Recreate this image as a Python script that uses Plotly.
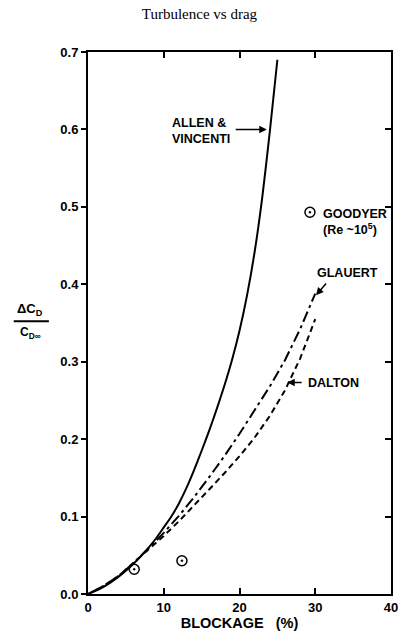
import plotly.graph_objects as go

# Blockage ratio (%) and drag-increment ratio for each correction
allen_x = [0, 1, 2, 3, 4, 5, 6, 7, 8, 9, 10, 11, 12, 13, 14, 15, 16, 17, 18, 19,
           20, 21, 22, 23, 24, 25]
allen_y = [0, 0.004, 0.009, 0.015, 0.022, 0.030, 0.039, 0.049, 0.060, 0.072,
           0.086, 0.100, 0.117, 0.137, 0.160, 0.185, 0.211, 0.239, 0.269, 0.302,
           0.340, 0.386, 0.442, 0.512, 0.597, 0.690]

glauert_x = [0, 2, 4, 6, 8, 10, 12, 14, 16, 18, 20, 22, 24, 26, 28, 30]
glauert_y = [0, 0.010, 0.023, 0.040, 0.059, 0.079, 0.101, 0.125, 0.151, 0.178,
             0.207, 0.237, 0.268, 0.302, 0.342, 0.388]

dalton_x = [0, 2, 4, 6, 8, 10, 12, 14, 16, 18, 20, 22, 24, 26, 28, 30]
dalton_y = [0, 0.010, 0.023, 0.040, 0.057, 0.075, 0.094, 0.114, 0.135, 0.156,
            0.178, 0.202, 0.230, 0.263, 0.304, 0.355]

# Measured points (Goodyer and others)
meas_x = [6.1, 12.4, 29.3]
meas_y = [0.032, 0.043, 0.493]

x_ticks = [0, 10, 20, 30, 40]
y_ticks = [0.0, 0.1, 0.2, 0.3, 0.4, 0.5, 0.6, 0.7]

SANS = "Liberation Sans, Arial, sans-serif"
LBL = dict(family=SANS, size=12, color="black")
CURVE_LBL = dict(family=SANS, size=12.5, color="black")

fig = go.Figure()
fig.add_trace(go.Scatter(x=allen_x, y=allen_y, mode="lines",
                         line=dict(color="black", width=2, shape="spline", smoothing=0.6)))
fig.add_trace(go.Scatter(x=glauert_x, y=glauert_y, mode="lines",
                         line=dict(color="black", width=2,
                                   dash="11px,4px,3px,4px")))
fig.add_trace(go.Scatter(x=dalton_x, y=dalton_y, mode="lines",
                         line=dict(color="black", width=2, dash="6px,4px")))
fig.add_trace(go.Scatter(x=meas_x, y=meas_y, mode="markers",
                         marker=dict(symbol="circle-open-dot", size=10, color="black",
                                     line=dict(width=1.5, color="black"))))
# invisible trace to carry the right-hand axis ticks
fig.add_trace(go.Scatter(x=[0], y=[0], yaxis="y2", mode="markers",
                         marker=dict(opacity=0), hoverinfo="skip"))

fig.update_layout(
    width=407, height=638,
    margin=dict(l=88, r=9, t=52, b=42),
    paper_bgcolor="white", plot_bgcolor="white",
    showlegend=False,
    xaxis=dict(range=[0, 40], tickvals=x_ticks,
               ticktext=["<b>%d</b>" % v for v in x_ticks],
               ticks="inside", ticklen=6, tickwidth=1.5, tickcolor="black",
               showline=True, linecolor="black", linewidth=2, mirror="ticks",
               showgrid=False, zeroline=False,
               tickfont=dict(family=SANS, size=13, color="black"),
               title=dict(text="<b>BLOCKAGE   (%)</b>", standoff=4,
                          font=dict(family=SANS, size=14.5, color="black"))),
    yaxis=dict(range=[0, 0.7], tickvals=y_ticks,
               ticktext=["<b>%.1f</b>" % v for v in y_ticks],
               ticks="outside", ticklen=5, tickwidth=1.5, tickcolor="black",
               showline=True, linecolor="black", linewidth=2,
               showgrid=False, zeroline=False,
               tickfont=dict(family=SANS, size=13, color="black")),
    yaxis2=dict(range=[0, 0.7], overlaying="y", side="right", tickvals=y_ticks,
                showticklabels=False, ticks="inside", ticklen=6, tickwidth=1.5,
                tickcolor="black", showline=True, linecolor="black", linewidth=2,
                showgrid=False, zeroline=False),
    title=dict(text="Turbulence vs drag", x=0.49, xanchor="center",
               y=0.978, yanchor="middle",
               font=dict(family="Liberation Serif, Times New Roman, serif",
                         size=15, color="black")),
)

# Y-axis title drawn as a stacked fraction
fig.add_annotation(text="<b>ΔC<sub>D</sub></b>", xref="paper", yref="paper",
                   x=-0.19, y=0.524, xanchor="center", yanchor="middle",
                   showarrow=False, font=dict(family=SANS, size=13, color="black"))
fig.add_annotation(text="<b>C<sub>D∞</sub></b>", xref="paper", yref="paper",
                   x=-0.19, y=0.482, xanchor="center", yanchor="middle",
                   showarrow=False, font=LBL)
fig.add_shape(type="line", xref="paper", yref="paper",
              x0=-0.245, x1=-0.129, y0=0.503, y1=0.503,
              line=dict(color="black", width=2))

# Curve labels
fig.add_annotation(text="<b>ALLEN &<br>VINCENTI</b>", x=10.8, y=0.598,
                   xanchor="left", yanchor="middle", align="left",
                   showarrow=False, font=CURVE_LBL)
fig.add_annotation(text="<b>GOODYER<br>(Re ~10<sup>5</sup>)</b>", x=30.8, y=0.481,
                   xanchor="left", yanchor="middle", align="left",
                   showarrow=False, font=CURVE_LBL)
fig.add_annotation(text="<b>GLAUERT</b>", x=30.0, y=0.414,
                   xanchor="left", yanchor="middle", showarrow=False, font=CURVE_LBL)
fig.add_annotation(text="<b>DALTON</b>", x=28.8, y=0.273,
                   xanchor="left", yanchor="middle", showarrow=False, font=CURVE_LBL)

# Leader arrows
arrow = dict(text="", showarrow=True, arrowhead=2, arrowsize=1, arrowwidth=1.5,
             arrowcolor="black", axref="x", ayref="y", xref="x", yref="y")
fig.add_annotation(x=23.6, y=0.600, ax=19.3, ay=0.600, **arrow)
fig.add_annotation(x=30.1, y=0.386, ax=31.6, ay=0.403, **arrow)
fig.add_annotation(x=26.3, y=0.273, ax=28.4, ay=0.273, **arrow)

fig.write_html("out.html")
